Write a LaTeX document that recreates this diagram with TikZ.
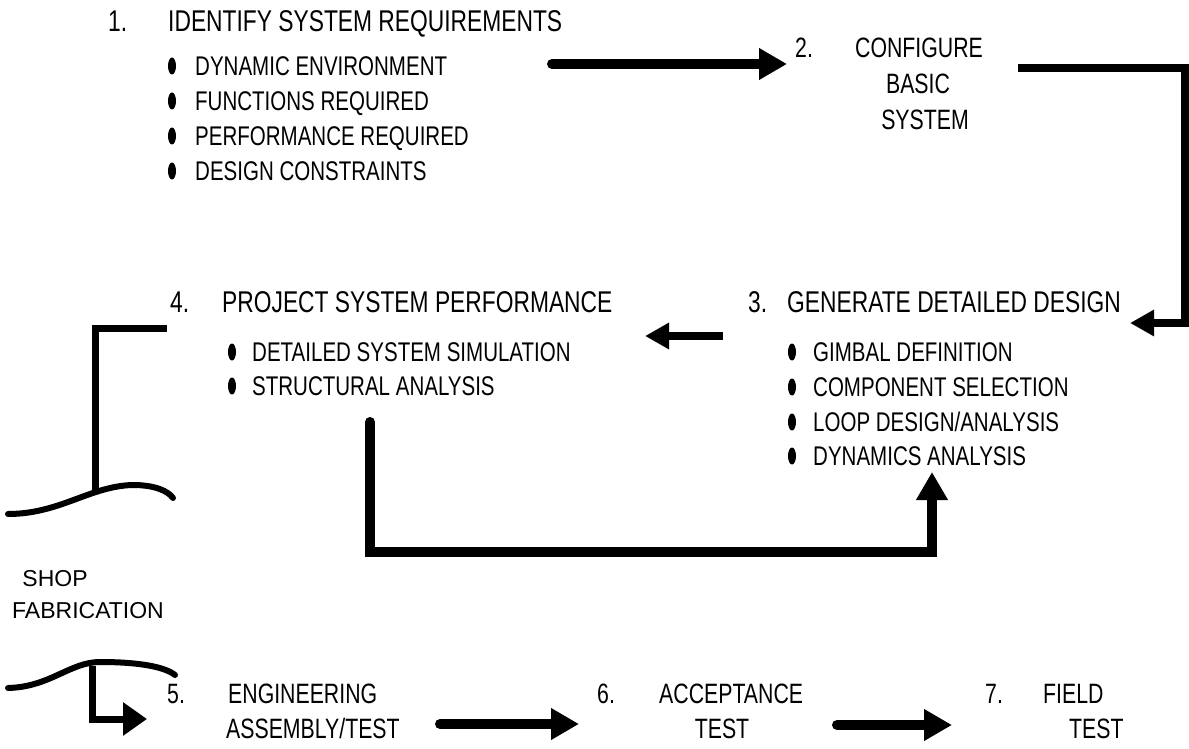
\documentclass[tikz,border=0pt]{standalone}
\usepackage{fontspec}
\setmainfont{Liberation Sans}
\newfontfamily\condfont[FakeStretch=0.76]{Liberation Sans}
\usetikzlibrary{arrows.meta,shapes.geometric}
\newcommand\FontT{\condfont\fontsize{30}{36}\selectfont}
\newcommand\FontB{\condfont\fontsize{27}{32}\selectfont}
\newcommand\FontC{\condfont\fontsize{28}{34}\selectfont}
\newcommand\FontS{\fontsize{23}{28}\selectfont}
\begin{document}
\begin{tikzpicture}[x=1pt,y=-1pt,
  ttl/.style={font=\FontT, anchor=west, inner sep=0pt, text height=21pt, text depth=0pt},
  itm/.style={font=\FontB, anchor=west, inner sep=0pt, text height=19pt, text depth=0pt},
  low/.style={font=\FontC, anchor=west, inner sep=0pt, text height=20pt, text depth=0pt},
  shop/.style={font=\FontS, inner sep=0pt, text height=16pt, text depth=0pt},
  dot/.style={ellipse, fill=black, inner sep=0pt, minimum width=8pt, minimum height=17pt},
  flow/.style={line width=10pt, line cap=round, line join=miter, -{Triangle[length=28pt,width=30pt]}},
  flowsm/.style={line width=8pt, line join=miter, -{Triangle[length=24pt,width=25pt]}},
  brk/.style={line width=7pt, line join=miter},
  wave/.style={line width=6pt, line cap=round}]
\useasboundingbox (0,0) rectangle (1189,749);

% ---- item 1
\node[ttl] (n1num) at (108,21) {1.};
\node[ttl] (n1) at (168,21) {IDENTIFY SYSTEM REQUIREMENTS};
\foreach \i/\t/\y in {1/DYNAMIC ENVIRONMENT/66, 2/FUNCTIONS REQUIRED/101, 3/PERFORMANCE REQUIRED/136, 4/DESIGN CONSTRAINTS/171}{
  \node[dot] (b1\i) at (172,\y) {};
  \node[itm] (t1\i) at (195,\y) {\t};
}

% ---- item 2
\node[low] (n2num) at (795,48) {2.};
\node[low] (n2a) at (855,48) {CONFIGURE};
\node[low, anchor=center] (n2b) at (918,84) {BASIC};
\node[low, anchor=center] (n2c) at (925,120) {SYSTEM};

% ---- item 3
\node[ttl] (n3num) at (748,302) {3.};
\node[ttl] (n3) at (787,302) {GENERATE DETAILED DESIGN};
\foreach \i/\t/\y in {1/GIMBAL DEFINITION/352, 2/COMPONENT SELECTION/387, 3/{LOOP DESIGN/ANALYSIS}/422, 4/DYNAMICS ANALYSIS/456}{
  \node[dot] (b3\i) at (792,\y) {};
  \node[itm] (t3\i) at (813,\y) {\t};
}

% ---- item 4
\node[ttl] (n4num) at (170,302) {4.};
\node[ttl] (n4) at (222,302) {PROJECT SYSTEM PERFORMANCE};
\foreach \i/\t/\y in {1/DETAILED SYSTEM SIMULATION/352, 2/STRUCTURAL ANALYSIS/386}{
  \node[dot] (b4\i) at (232,\y) {};
  \node[itm] (t4\i) at (252,\y) {\t};
}

% ---- shop fabrication
\node[shop] (shop1) at (55,578) {SHOP};
\node[shop] (shop2) at (88,610) {FABRICATION};

% ---- items 5, 6, 7
\node[low] (n5num) at (167,693) {5.};
\node[low] (n5a) at (228,693) {ENGINEERING};
\node[low] (n5b) at (226,728) {ASSEMBLY/TEST};
\node[low] (n6num) at (597,693) {6.};
\node[low] (n6a) at (659,693) {ACCEPTANCE};
\node[low, anchor=center] (n6b) at (722,728) {TEST};
\node[low] (n7num) at (985,693) {7.};
\node[low] (n7a) at (1043,693) {FIELD};
\node[low] (n7b) at (1069,728) {TEST};

% ---- connector points
\coordinate (c12s) at (552,64);
\coordinate (c12e) at (787,64);
\coordinate (c23s) at (1018,68);
\coordinate (c23a) at (1185,68);
\coordinate (c23b) at (1185,323);
\coordinate (c23e) at (1130,323);
\coordinate (c34s) at (723,336);
\coordinate (c34e) at (645,336);
\coordinate (lp1) at (370,422);
\coordinate (lp2) at (370,552);
\coordinate (lp3) at (932,552);
\coordinate (lp4) at (932,472);
\coordinate (fb1) at (167,328);
\coordinate (fb2) at (95,328);
\coordinate (fb3) at (95,492);
\coordinate (fc1) at (92,666);
\coordinate (fc2) at (92,719);
\coordinate (fc3) at (147,719);
\coordinate (c56s) at (440,724);
\coordinate (c56e) at (579,724);
\coordinate (c67s) at (837,725);
\coordinate (c67e) at (952,725);

% ---- connectors
\draw[flow] (c12s) -- (c12e);
\draw[flowsm] (c23s) -- (c23a) -- (c23b) -- (c23e);
\draw[flowsm] (c34s) -- (c34e);
\draw[flow] (lp1) -- (lp2) -- (lp3) -- (lp4);
\draw[brk] (fb1) -- (fb2) -- (fb3);
\draw[brk, -{Triangle[length=24pt,width=32pt]}] (fc1) -- (fc2) -- (fc3);
\draw[flow] (c56s) -- (c56e);
\draw[flow] (c67s) -- (c67e);

% ---- wavy breaks
\draw[wave] (8,514) .. controls (60,514) and (90,486) .. (133,485)
            .. controls (155,485) and (168,491) .. (173,498);
\draw[wave] (8,688) .. controls (50,687) and (70,662) .. (100,662)
            .. controls (140,662) and (165,667) .. (175,675);
\end{tikzpicture}
\end{document}
